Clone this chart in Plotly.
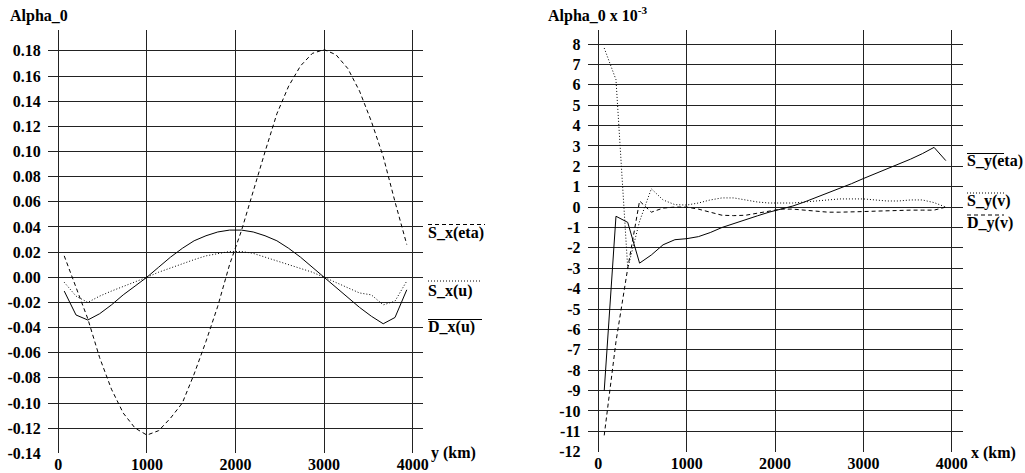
import plotly.graph_objects as go

# ---------------- data ----------------
x_km = [67, 200, 333, 467, 600, 733, 867, 1000, 1133, 1267, 1400, 1533, 1667, 1800, 1933,
        2067, 2200, 2333, 2467, 2600, 2733, 2867, 3000, 3133, 3267, 3400, 3533, 3667, 3800, 3933]

# left panel (Alpha_0)
S_x_eta = [0.017, -0.008, -0.033, -0.064, -0.089, -0.108, -0.120, -0.1255, -0.122, -0.112,
           -0.100, -0.077, -0.051, -0.023, 0.010, 0.037, 0.069, 0.0997, 0.130, 0.152,
           0.168, 0.178, 0.181, 0.177, 0.166, 0.148, 0.124, 0.096, 0.060, 0.026]
S_x_u = [-0.004, -0.015, -0.020, -0.015, -0.011, -0.0075, -0.004, 0.000, 0.004, 0.0075,
         0.011, 0.014, 0.017, 0.019, 0.0205, 0.0205, 0.019, 0.016, 0.013, 0.0105,
         0.0075, 0.004, 0.000, -0.004, -0.008, -0.0125, -0.014, -0.022, -0.019, -0.003]
D_x_u = [-0.011, -0.030, -0.034, -0.029, -0.022, -0.014, -0.007, 0.000, 0.008, 0.016,
         0.023, 0.029, 0.033, 0.036, 0.0375, 0.0375, 0.036, 0.033, 0.029, 0.023,
         0.016, 0.008, 0.000, -0.008, -0.016, -0.024, -0.031, -0.037, -0.032, -0.010]

# right panel (Alpha_0 x 10^-3)
S_y_eta = [-9.0, -0.45, -0.75, -2.75, -2.35, -1.85, -1.6, -1.55, -1.45, -1.25,
           -1.0, -0.8, -0.6, -0.43, -0.25, -0.1, 0.05, 0.25, 0.47, 0.7,
           0.92, 1.15, 1.4, 1.63, 1.87, 2.1, 2.35, 2.62, 2.93, 2.28]
S_y_v = [7.8, 6.25, -3.0, -0.7, 0.9, 0.35, 0.12, 0.1, 0.2, 0.35,
         0.45, 0.45, 0.35, 0.25, 0.2, 0.2, 0.2, 0.25, 0.3, 0.35,
         0.4, 0.4, 0.4, 0.35, 0.3, 0.3, 0.35, 0.35, 0.22, 0.0]
D_y_v = [-11.2, -6.6, -3.0, 0.3, -0.25, -0.05, 0.0, 0.0, -0.1, -0.25,
         -0.4, -0.42, -0.4, -0.3, -0.2, -0.1, -0.1, -0.15, -0.2, -0.25,
         -0.25, -0.25, -0.22, -0.2, -0.18, -0.15, -0.15, -0.15, -0.15, 0.0]

x_ticks = [0, 1000, 2000, 3000, 4000]
x_ticktext = ["0", "1000", "2000", "3000", "4000"]
yl_ticks = [-0.14, -0.12, -0.10, -0.08, -0.06, -0.04, -0.02, 0.00, 0.02, 0.04, 0.06,
            0.08, 0.10, 0.12, 0.14, 0.16, 0.18]
yl_ticktext = ["-0.14", "-0.12", "-0.10", "-0.08", "-0.06", "-0.04", "-0.02", "0.00",
               "0.02", "0.04", "0.06", "0.08", "0.10", "0.12", "0.14", "0.16", "0.18"]
yr_ticks = list(range(-12, 9))
yr_ticktext = [str(v) for v in yr_ticks]

# ---------------- figure ----------------
W, H = 1025, 473
FONT = "Liberation Serif"
FS = 16
fig = go.Figure()

DASH = "4px,3px"
DOT = "1px,2px"

fig.add_trace(go.Scatter(x=x_km, y=S_x_eta, mode="lines", line=dict(color="black", width=1, dash=DASH),
                         xaxis="x", yaxis="y", name="S_x(eta)"))
fig.add_trace(go.Scatter(x=x_km, y=S_x_u, mode="lines", line=dict(color="black", width=1, dash=DOT),
                         xaxis="x", yaxis="y", name="S_x(u)"))
fig.add_trace(go.Scatter(x=x_km, y=D_x_u, mode="lines", line=dict(color="black", width=1),
                         xaxis="x", yaxis="y", name="D_x(u)"))

fig.add_trace(go.Scatter(x=x_km, y=S_y_eta, mode="lines", line=dict(color="black", width=1),
                         xaxis="x2", yaxis="y2", name="S_y(eta)"))
fig.add_trace(go.Scatter(x=x_km, y=S_y_v, mode="lines", line=dict(color="black", width=1, dash=DOT),
                         xaxis="x2", yaxis="y2", name="S_y(v)"))
fig.add_trace(go.Scatter(x=x_km, y=D_y_v, mode="lines", line=dict(color="black", width=1, dash=DASH),
                         xaxis="x2", yaxis="y2", name="D_y(v)"))


def px(x):
    return x / W


def py(y):
    return 1 - y / H


def b(lst):
    return ["<b>" + t + "</b>" for t in lst]


tickfont = dict(family=FONT, size=FS, color="black")
grid = dict(showgrid=True, gridcolor="#222", gridwidth=1, zeroline=False, showline=False,
            tickcolor="rgba(0,0,0,0)", tickfont=tickfont,
            fixedrange=True, automargin=False)
xgrid = dict(grid, ticks="")
ygrid = dict(grid, ticks="outside", ticklen=3)

fig.update_layout(
    width=W, height=H, autosize=False,
    margin=dict(l=0, r=0, t=0, b=0, autoexpand=False),
    paper_bgcolor="white", plot_bgcolor="white",
    showlegend=False,
    xaxis=dict(domain=[px(48), px(423)], range=[-116, 4116], anchor="y",
               tickvals=x_ticks, ticktext=b(x_ticktext), **xgrid),
    yaxis=dict(domain=[py(453.3), py(30)], range=[-0.14, 0.1966], anchor="x",
               tickvals=yl_ticks, ticktext=b(yl_ticktext), **ygrid),
    xaxis2=dict(domain=[px(587.7), px(962.7)], range=[-120, 4124], anchor="y2",
                tickvals=x_ticks, ticktext=b(x_ticktext), **xgrid),
    yaxis2=dict(domain=[py(451.7), py(30)], range=[-12, 8.687], anchor="x2",
                tickvals=yr_ticks, ticktext=b(yr_ticktext), **ygrid),
)


def label(text, x, y, xanchor="left", size=FS):
    fig.add_annotation(text="<b>" + text + "</b>", x=px(x), y=py(y), xref="paper", yref="paper",
                       xanchor=xanchor, yanchor="middle", showarrow=False,
                       font=dict(family=FONT, size=size, color="black"))


# titles
label("Alpha_0", 8, 16)
label("Alpha_0 x 10<sup>-3</sup>", 546, 14)
# axis names
label("y (km)", 429, 453)
label("x (km)", 969, 453)
# legend labels
label("S_x(eta)", 426, 233)
label("S_x(u)", 426, 291)
label("D_x(u)", 426, 327)
label("S_y(eta)", 965, 161)
label("S_y(v)", 965, 201)
label("D_y(v)", 965, 223)


def overline(x0, x1, y, dash):
    fig.add_shape(type="line", xref="paper", yref="paper", x0=px(x0), x1=px(x1), y0=py(y), y1=py(y),
                  line=dict(color="black", width=1, dash=dash))


overline(428, 485, 224.5, DASH)
overline(428, 482, 281, DOT)
overline(428, 482, 319.5, "solid")
overline(967, 1004, 153.5, "solid")
overline(967, 1004, 193, DOT)
overline(967, 1004, 215, DASH)

# remove the default 8px page margin so the figure fills the window exactly
fig.write_html("out.html", config={"displayModeBar": False},
               post_script="document.body.style.margin='0';document.body.style.overflow='hidden';")
